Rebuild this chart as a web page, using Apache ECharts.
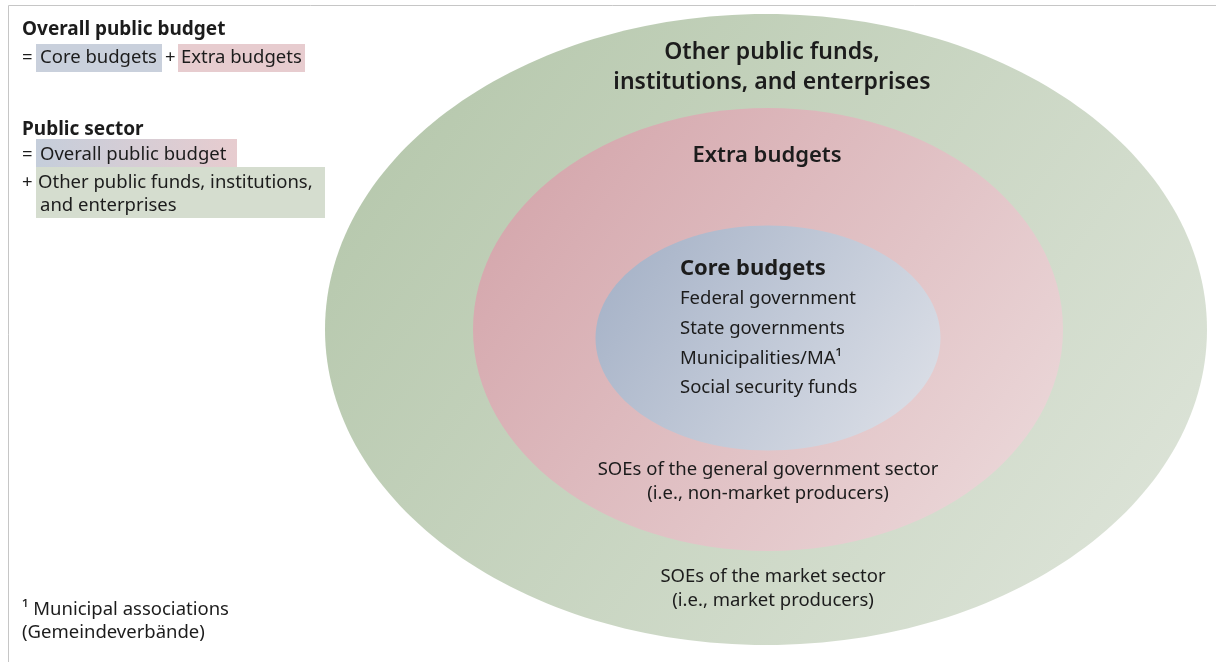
<!DOCTYPE html>
<html>
<head>
<meta charset="utf-8">
<script src="https://cdn.jsdelivr.net/npm/echarts@6/dist/echarts.min.js"></script>
<style>
  html, body { margin: 0; padding: 0; background: #fff; }
  #chart { width: 1216px; height: 662px; }
</style>
</head>
<body>
<div id="chart"></div>
<script>
// nested sectors, outer to inner: centre and radii in page units
var sectorNames = ['Other public funds, institutions, and enterprises', 'Extra budgets', 'Core budgets'];
var centreX = [766, 768, 768];
var centreY = [329.5, 329.5, 338];
var radiusX = [441, 295, 172.5];
var radiusY = [315.5, 221.5, 112.5];

// labels inside the sectors
var outerTitle = ['Other public funds,', 'institutions, and enterprises'];
var outerNote = ['SOEs of the market sector', '(i.e., market producers)'];
var extraTitle = ['Extra budgets'];
var extraNote = ['SOEs of the general government sector', '(i.e., non-market producers)'];
var coreTitle = ['Core budgets'];
var coreItems = ['Federal government', 'State governments', 'Municipalities/MA¹', 'Social security funds'];
var footnote = ['¹ Municipal associations', '(Gemeindeverbände)'];

var FONT = '"Noto Sans", "Open Sans", sans-serif';
var INK = '#1c1c1c';
var BODY = 18.5;

// top-left dark to bottom-right light
var sectorFills = [
  ['#b2c5a8', '#e0e6dc'],
  ['#d2a1a7', '#eddcdd'],
  ['#a2afc5', '#dfe2e9']
];

function grad(c) {
  return new echarts.graphic.LinearGradient(0, 0, 1, 1, [
    { offset: 0, color: c[0] },
    { offset: 1, color: c[1] }
  ]);
}

function txt(str, x, y, size, weight, align) {
  return {
    type: 'text', x: x, y: y, z: 100,
    style: {
      text: str, fill: INK,
      fontSize: size, fontWeight: weight || 'normal', fontFamily: FONT,
      align: align || 'left', textAlign: align || 'left',
      verticalAlign: 'middle', textVerticalAlign: 'middle'
    }
  };
}

function lines(arr, x, y0, step, size, weight, align) {
  return arr.map(function (s, i) { return txt(s, x, y0 + i * step, size, weight, align); });
}

var sectorData = sectorNames.map(function (n, i) {
  return { name: n, value: [centreX[i], centreY[i], radiusX[i], radiusY[i]] };
});

var graphics = [
  // frame
  { type: 'rect', z: 99, shape: { x: 8.5, y: 5.5, width: 1220, height: 680 },
    style: { fill: 'none', stroke: '#c6c6c6', lineWidth: 1 } },

  // legend highlight boxes
  { type: 'rect', z: 99, shape: { x: 36, y: 44, width: 126, height: 28 }, style: { fill: '#c9d0dc' } },
  { type: 'rect', z: 99, shape: { x: 178, y: 44, width: 127, height: 28 }, style: { fill: '#e7cccf' } },
  { type: 'rect', z: 99, shape: { x: 36, y: 139, width: 201, height: 28 },
    style: { fill: new echarts.graphic.LinearGradient(0, 0, 1, 0, [
      { offset: 0, color: '#c5cedb' }, { offset: 1, color: '#e7cccf' }]) } },
  { type: 'rect', z: 99, shape: { x: 36, y: 167, width: 289, height: 51 }, style: { fill: '#d5ddcf' } },

  txt('Overall public budget', 22, 30, 19, 'bold'),
  txt('=', 22, 58, BODY),
  txt('Core budgets', 40, 58, BODY),
  txt('+', 165, 58, BODY),
  txt('Extra budgets', 181, 58, BODY),

  txt('Public sector', 22, 130, 19, 'bold'),
  txt('=', 22, 155, BODY),
  txt('Overall public budget', 40, 155, BODY),
  txt('+', 22, 183, BODY),
  txt('Other public funds, institutions,', 38, 183, BODY),
  txt('and enterprises', 40, 206, BODY)
]
  .concat(lines(footnote, 22, 610, 23, BODY))
  .concat(lines(outerTitle, 772, 52, 30, 23, 600, 'center'))
  .concat(lines(extraTitle, 767, 156, 30, 22, 600, 'center'))
  .concat(lines(coreTitle, 680, 269, 30, 22, 'bold'))
  .concat(lines(coreItems, 680, 299, 29.7, BODY))
  .concat(lines(extraNote, 768, 470, 24, BODY, 'normal', 'center'))
  .concat(lines(outerNote, 773, 577, 24, BODY, 'normal', 'center'));

var chart = echarts.init(document.getElementById('chart'), null, { renderer: 'canvas' });
chart.setOption({
  backgroundColor: '#fff',
  animation: false,
  grid: { left: 0, right: 0, top: 0, bottom: 0 },
  xAxis: { type: 'value', min: 0, max: 1216, show: false },
  yAxis: { type: 'value', min: 0, max: 662, inverse: true, show: false },
  series: [{
    type: 'custom',
    data: sectorData,
    renderItem: function (params, api) {
      var c = api.coord([api.value(0), api.value(1)]);
      var s = api.size([api.value(2), api.value(3)]);
      return {
        type: 'ellipse',
        shape: { cx: c[0], cy: c[1], rx: s[0], ry: s[1] },
        style: { fill: grad(sectorFills[params.dataIndex]) }
      };
    }
  }],
  graphic: graphics
});
</script>
</body>
</html>
